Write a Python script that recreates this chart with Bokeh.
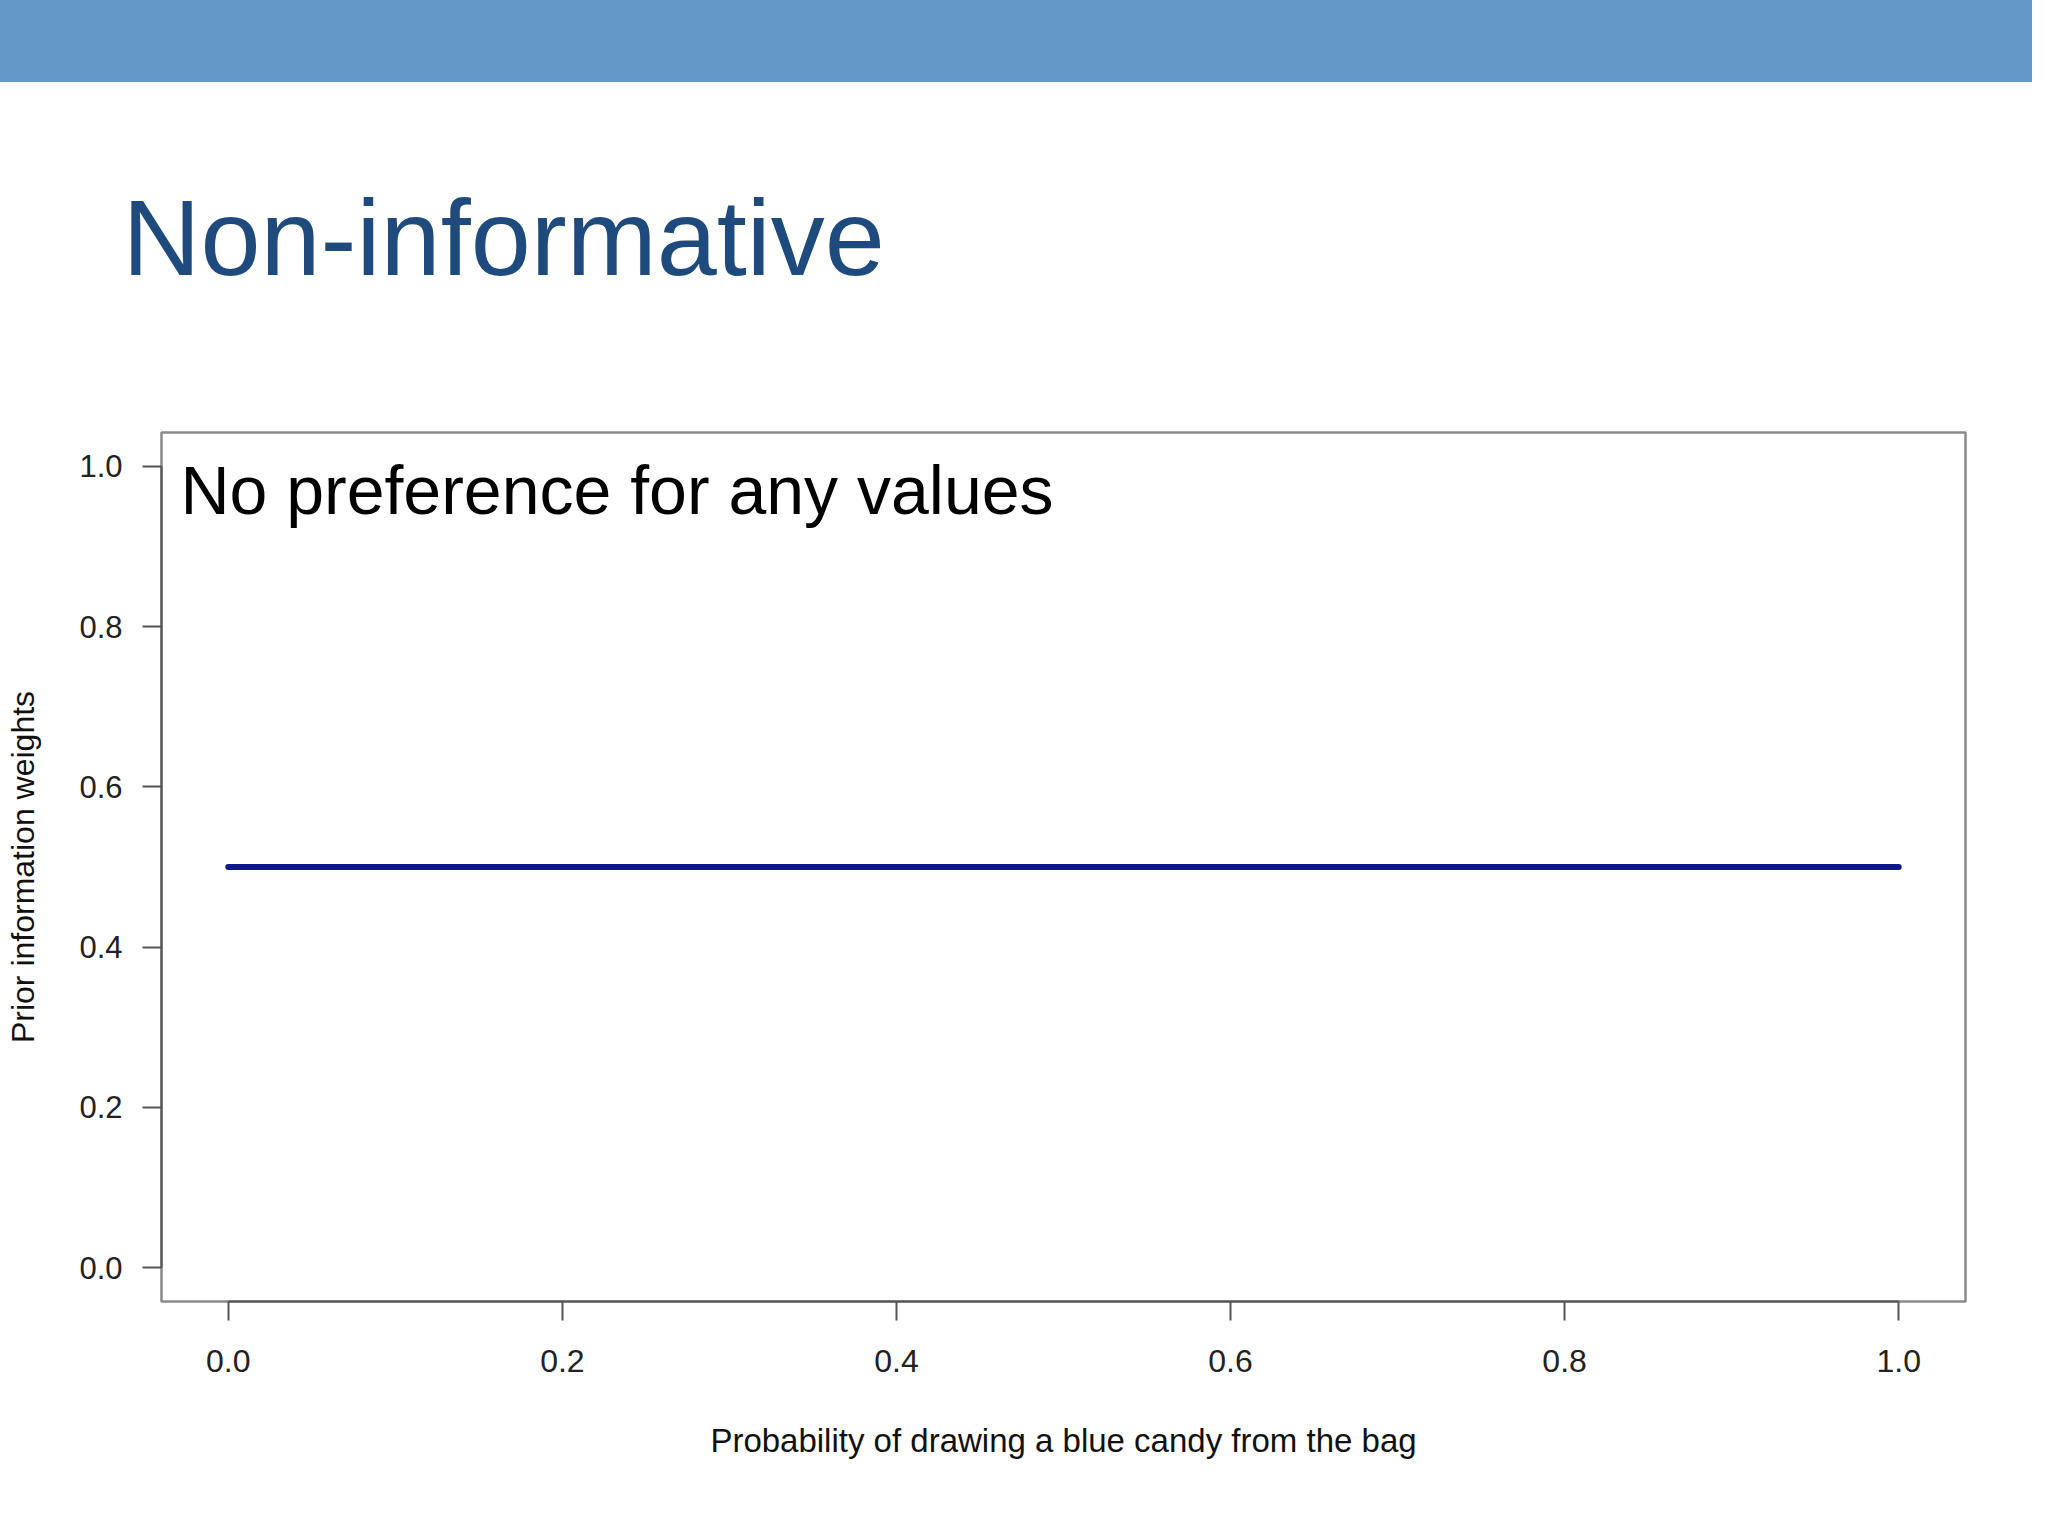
from bokeh.plotting import figure
from bokeh.models import Label, Range1d, FixedTicker, PrintfTickFormatter, Div, Title
from bokeh.layouts import column
from bokeh.embed import file_html
from bokeh.resources import INLINE

# ---- data ----
x_values = [0.0, 1.0]
prior_weights = [0.5, 0.5]
x_ticks = [0.0, 0.2, 0.4, 0.6, 0.8, 1.0]
y_ticks = [0.0, 0.2, 0.4, 0.6, 0.8, 1.0]
slide_title = "Non-informative"
note_text = "No preference for any values"
x_label = "Probability of drawing a blue candy from the bag"
y_label = "Prior information weights"

FONT = "Liberation Sans"
W = 2032

# header band of the slide
header = Div(text="", width=W, height=82, margin=0,
             styles={"background-color": "#6398C8"})

# slide title area: the title sits in this figure's "above" panel
tp = figure(width=W, height=346, output_backend="svg", toolbar_location=None,
            x_range=Range1d(0, 1), y_range=Range1d(0, 1),
            x_axis_location=None, y_axis_location=None,
            min_border=0, margin=0)
tp.grid.visible = False
tp.outline_line_color = None
tp.background_fill_color = "white"
tp.border_fill_color = "white"
tp.add_layout(Title(text=slide_title, text_font=FONT, text_font_size="108px",
                    text_font_style="normal", text_color="#1F4A7E",
                    align="left", offset=-39, standoff=184), "above")

# the chart
p = figure(width=W, height=1092, output_backend="svg", toolbar_location=None,
           x_range=Range1d(-0.04, 1.04), y_range=Range1d(-0.042, 1.042),
           min_border_left=161, min_border_right=67, min_border_top=4, min_border_bottom=219,
           margin=0)

p.background_fill_color = "white"
p.border_fill_color = "white"
p.outline_line_color = "#8a8a8a"
p.outline_line_width = 2.5
p.xgrid.visible = False
p.ygrid.visible = False

p.line(x_values, prior_weights, line_width=6, line_color="#0E1690", line_cap="round")

for ax, ticks in ((p.xaxis[0], x_ticks), (p.yaxis[0], y_ticks)):
    ax.ticker = FixedTicker(ticks=ticks)
    ax.formatter = PrintfTickFormatter(format="%.1f")
    ax.bounds = (0, 1)
    ax.minor_tick_line_color = None
    ax.major_tick_in = 0
    ax.major_tick_out = 19
    ax.major_tick_line_color = "#555555"
    ax.major_tick_line_width = 2
    ax.axis_line_color = "#555555"
    ax.axis_line_width = 2
    ax.major_label_text_font = FONT
    ax.major_label_text_color = "#222222"
    ax.axis_label_text_font = FONT
    ax.axis_label_text_font_style = "normal"
    ax.axis_label_text_color = "#111111"

p.xaxis.axis_label = x_label
p.yaxis.axis_label = y_label
p.xaxis.major_label_text_font_size = "32px"
p.yaxis.major_label_text_font_size = "31px"
p.xaxis.axis_label_text_font_size = "33px"
p.yaxis.axis_label_text_font_size = "32px"
p.xaxis.major_label_standoff = 29
p.yaxis.major_label_standoff = 20
p.xaxis.axis_label_standoff = 47
p.yaxis.axis_label_standoff = 35

# note inside plot
p.add_layout(Label(x=-0.0287, y=0.9705, text=note_text, text_font=FONT,
                   text_font_size="68px", text_color="black",
                   text_baseline="alphabetic", text_align="left"))

page = column(header, tp, p, spacing=0)
open("out.html", "w").write(file_html(page, INLINE))
